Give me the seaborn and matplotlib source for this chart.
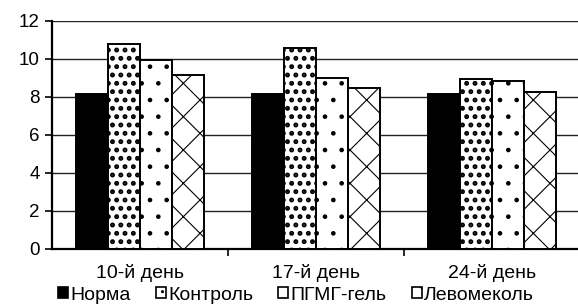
import matplotlib
matplotlib.use("Agg")
import matplotlib.pyplot as plt
import matplotlib.patches as mpatches
import numpy as np
import pandas as pd
import seaborn as sns


DAYS = ["10-й день", "17-й день", "24-й день"]
GROUPS = ["Норма", "Контроль", "ПГМГ-гель", "Левомеколь"]

norma = [8.15, 8.15, 8.15]
kontrol = [10.75, 10.55, 8.95]
pgmg = [9.95, 9.0, 8.85]
levomekol = [9.15, 8.45, 8.25]

FACES = ["black", "white", "white", "white"]
HATCHES = [None, "..", ".", "x"]
HATCH_LW = [1.0, 2.3, 0.9, 0.8]


def main() -> None:
    sns.set_theme(style="white")
    plt.rcParams["font.family"] = ["Liberation Sans", "DejaVu Sans"]
    plt.rcParams["hatch.color"] = "black"

    df = pd.DataFrame({
        "day": DAYS * 4,
        "group": np.repeat(GROUPS, len(DAYS)),
        "value": norma + kontrol + pgmg + levomekol,
    })

    fig = plt.figure(figsize=(5.78, 3.06), dpi=100)
    ax = fig.add_axes([52 / 578, 57.3 / 306, 528 / 578, 228 / 306])

    sns.barplot(data=df, x="day", y="value", hue="group", order=DAYS, hue_order=GROUPS,
                palette=FACES, width=0.73, gap=0, errorbar=None, saturation=1,
                edgecolor="black", linewidth=1.4, legend=False, ax=ax, zorder=3)

    for cont, face, hatch, hlw in zip(ax.containers, FACES, HATCHES, HATCH_LW):
        for bar in cont:
            bar.set_facecolor(face)
            bar.set_edgecolor("black")
            if hatch:
                bar.set_hatch(hatch)
                if hasattr(bar, "set_hatch_linewidth"):
                    bar.set_hatch_linewidth(hlw)

    ax.set_ylim(0, 12)
    ax.set_yticks(range(0, 13, 2))
    ax.set_xlim(-0.5, 2.5)
    ax.yaxis.grid(True, color="#222222", linewidth=1.0, zorder=0)
    ax.set_axisbelow(True)

    for side in ["top", "right"]:
        ax.spines[side].set_visible(False)
    ax.spines["left"].set_color("black")
    ax.spines["left"].set_linewidth(1.6)
    ax.spines["bottom"].set_color("black")
    ax.spines["bottom"].set_linewidth(1.6)

    ax.tick_params(axis="y", which="major", direction="out", length=5, width=1.2,
                   color="black", left=True, labelsize=13.5, pad=4, labelcolor="black")
    ax.tick_params(axis="x", which="major", length=0, labelsize=14, pad=11, labelcolor="black")
    ax.set_xticks([0.5, 1.5], minor=True)
    ax.tick_params(axis="x", which="minor", direction="out", length=5, width=1.2,
                   color="black", bottom=True)
    ax.set_xlabel("")
    ax.set_ylabel("")

    handles = []
    for name, face, hatch in zip(GROUPS, FACES, HATCHES):
        handles.append(mpatches.Patch(facecolor=face, edgecolor="black",
                                      hatch=hatch, linewidth=1.2, label=name))
    fig.legend(handles=handles, loc="center", bbox_to_anchor=(0.512, 11 / 306),
               ncol=4, frameon=False, fontsize=14, handlelength=0.52,
               handleheight=0.52, handletextpad=0.1, columnspacing=1.3,
               borderaxespad=0, labelcolor="black")

    fig.savefig("out.png", dpi=100)
    plt.close(fig)


if __name__ == "__main__":
    main()
